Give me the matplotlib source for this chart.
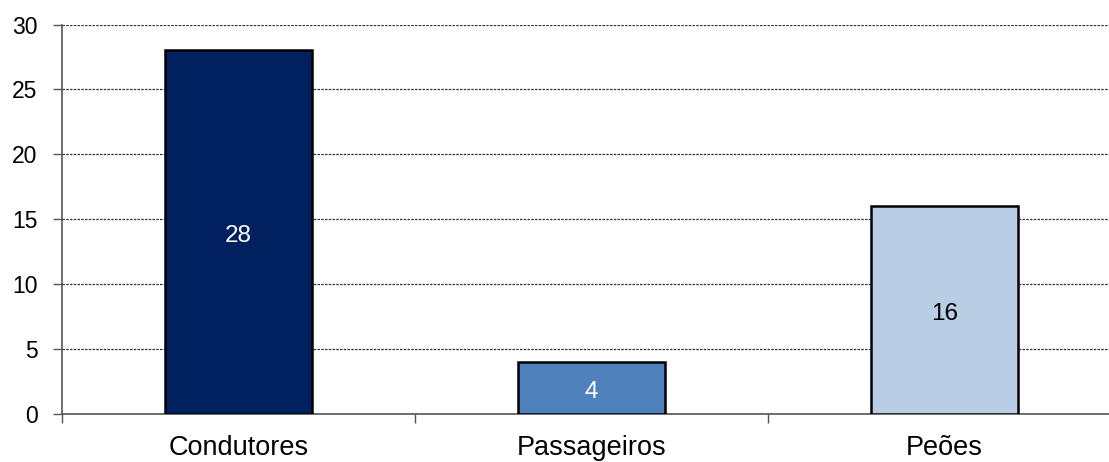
import numpy as np
import matplotlib.pyplot as plt

categories = ["Condutores", "Passageiros", "Peões"]
values = [28, 4, 16]
bar_colors = ["#002060", "#4F81BD", "#B9CDE5"]
label_colors = ["white", "white", "black"]

plt.rcParams['font.family'] = ['Liberation Sans', 'DejaVu Sans']

fig = plt.figure(figsize=(11.09, 4.62), dpi=100)
ax = fig.add_axes([62 / 1109, 48 / 462, 1 - 62 / 1109, (414 - 24.5) / 462])

x = np.arange(len(categories))
bars = ax.bar(x, values, width=0.414, color=bar_colors, edgecolor="black",
              linewidth=1.8, zorder=3)

for rect, v, c in zip(bars, values, label_colors):
    ax.annotate(str(v), (rect.get_x() + rect.get_width() / 2, v / 2),
                xytext=(0, -3), textcoords="offset points",
                ha="center", va="center", color=c, fontsize=17.5, zorder=4)

ax.set_yticks(np.arange(0, 31, 5))
ax.set_xticks(x)
ax.set_xticklabels(categories, fontsize=19.5)
ax.set_xticks([-0.5, 0.5, 1.5, 2.5], minor=True)
ax.set_xlim(-0.5, -0.5 + (1109 - 62) / 353)
ax.set_ylim(0, 30)

ax.yaxis.grid(True, linestyle=(0, (2, 1)), color="#333333", linewidth=0.9, zorder=0)
ax.tick_params(axis="y", labelsize=16.5, length=6.5, width=1, color="#555555", pad=11)
ax.tick_params(axis="x", which="major", length=0, pad=15)
ax.tick_params(axis="x", which="minor", length=6.5, width=1, color="#555555")

for side in ["top", "right"]:
    ax.spines[side].set_visible(False)
for side in ["left", "bottom"]:
    ax.spines[side].set_color("#555555")
    ax.spines[side].set_linewidth(1.2)

plt.savefig("out.png", dpi=100)
